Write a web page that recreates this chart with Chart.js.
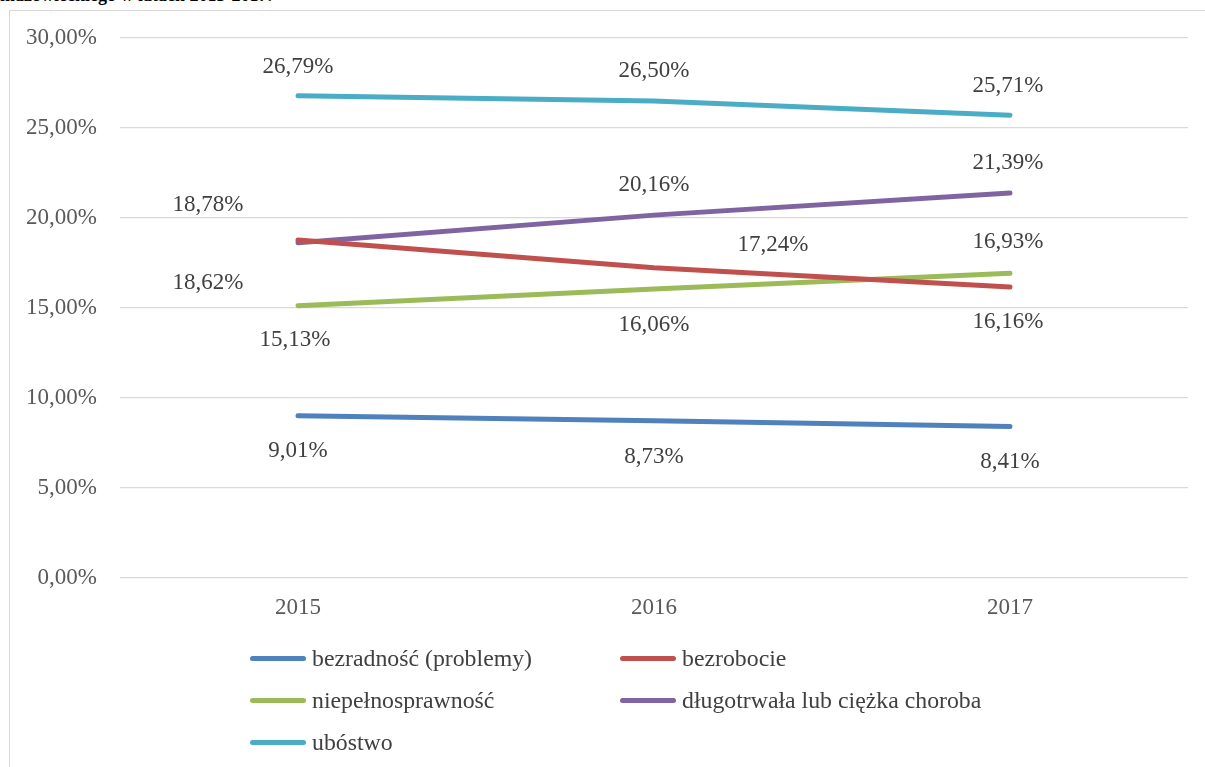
<!DOCTYPE html>
<html>
<head>
<meta charset="utf-8">
<script src="https://cdn.jsdelivr.net/npm/chart.js@4.4.1/dist/chart.umd.min.js"></script>
<style>
  html, body { margin:0; padding:0; background:#fff; width:1205px; height:767px; overflow:hidden; position:relative; font-family:"Liberation Serif","Times New Roman",serif; }
  #title { position:absolute; left:0; top:-15px; font-weight:bold; font-size:18px; color:#000; white-space:nowrap; }
  #frame { position:absolute; left:9px; top:10px; width:1220px; height:800px; border:1.5px solid #d9d9d9; box-sizing:border-box; }
  #wrap { position:absolute; left:0; top:0; width:1205px; height:640px; }
  #legend { position:absolute; left:0; top:0; width:1205px; height:767px; pointer-events:none; }
  .li { position:absolute; display:flex; align-items:center; font-size:23.8px; color:#404040; white-space:nowrap; }
  .sw { width:56px; height:5px; border-radius:3px; margin-right:6px; }
</style>
</head>
<body>
<div id="title">mazowieckiego w latach 2015-2017.</div>
<div id="frame"></div>
<div id="wrap"><canvas id="c" width="1205" height="640"></canvas></div>
<div id="legend"></div>
<script>
const categories = ["2015", "2016", "2017"];
const seriesNames = ["bezradność (problemy)", "bezrobocie", "niepełnosprawność", "długotrwała lub ciężka choroba", "ubóstwo"];
const bezradnosc = [9.01, 8.73, 8.41];
const bezrobocie = [18.78, 17.24, 16.16];
const niepelnosprawnosc = [15.13, 16.06, 16.93];
const choroba = [18.62, 20.16, 21.39];
const ubostwo = [26.79, 26.50, 25.71];
const yTicks = [0, 5, 10, 15, 20, 25, 30];

const colors = ["#4F81BD", "#C0504D", "#9BBB59", "#8064A2", "#4BACC6"];
const seriesData = [bezradnosc, bezrobocie, niepelnosprawnosc, choroba, ubostwo];
// label offsets (pixels) per series / point
const labelOffsets = [
  [[0,35],[0,36],[0,35]],
  [[-90,-35],[119,-23],[-2,35]],
  [[-3,34],[0,36],[-2,-31]],
  [[-90,40],[0,-30],[-2,-30]],
  [[0,-29],[0,-30],[-2,-29]]
];
const FONT = '"Liberation Serif", "Times New Roman", serif';
const fmt = v => v.toFixed(2).replace('.', ',') + '%';

const labelPlugin = {
  id: 'dlabels',
  afterDatasetsDraw(chart) {
    const ctx = chart.ctx;
    ctx.save();
    ctx.font = '23px ' + FONT;
    ctx.fillStyle = '#404040';
    ctx.textAlign = 'center';
    ctx.textBaseline = 'middle';
    chart.data.datasets.forEach((ds, i) => {
      const meta = chart.getDatasetMeta(i);
      meta.data.forEach((pt, j) => {
        const o = labelOffsets[i][j];
        ctx.fillText(fmt(ds.data[j]), pt.x + o[0], pt.y + o[1]);
      });
    });
    ctx.restore();
  }
};

new Chart(document.getElementById('c'), {
  type: 'line',
  data: {
    labels: categories,
    datasets: seriesNames.map((n, i) => ({
      label: n,
      data: seriesData[i],
      borderColor: colors[i],
      backgroundColor: colors[i],
      borderWidth: 5,
      borderCapStyle: 'round',
      borderJoinStyle: 'round',
      pointRadius: 0,
      tension: 0,
      fill: false
    }))
  },
  options: {
    responsive: false,
    animation: false,
    layout: { padding: { left: 0, right: 17, top: 38, bottom: 22 } },
    plugins: { legend: { display: false }, tooltip: { enabled: false } },
    scales: {
      x: {
        offset: true,
        grid: { display: false, drawTicks: false },
        border: { display: false },
        ticks: { color: '#595959', font: { family: FONT, size: 23 }, padding: 16 },
        afterFit(s) { s.height = 40; }
      },
      y: {
        min: 0, max: 30,
        afterBuildTicks(s) { s.ticks = yTicks.map(v => ({ value: v })); },
        grid: { color: '#d9d9d9', lineWidth: 1.3, drawTicks: false },
        border: { display: false },
        ticks: {
          color: '#595959',
          font: { family: FONT, size: 23 },
          padding: 23,
          callback: v => v.toFixed(2).replace('.', ',') + '%'
        },
        afterFit(s) { s.width = 120; }
      }
    }
  },
  plugins: [labelPlugin]
});

// legend
const legendPos = [[250,658],[620,658],[250,700],[620,700],[250,742]];
const lg = document.getElementById('legend');
seriesNames.forEach((n, i) => {
  const d = document.createElement('div');
  d.className = 'li';
  d.style.left = legendPos[i][0] + 'px';
  d.style.top = (legendPos[i][1] - 14) + 'px';
  d.style.height = '28px';
  const sw = document.createElement('div');
  sw.className = 'sw';
  sw.style.background = colors[i];
  const t = document.createElement('span');
  t.textContent = n;
  d.appendChild(sw); d.appendChild(t);
  lg.appendChild(d);
});
</script>
</body>
</html>
